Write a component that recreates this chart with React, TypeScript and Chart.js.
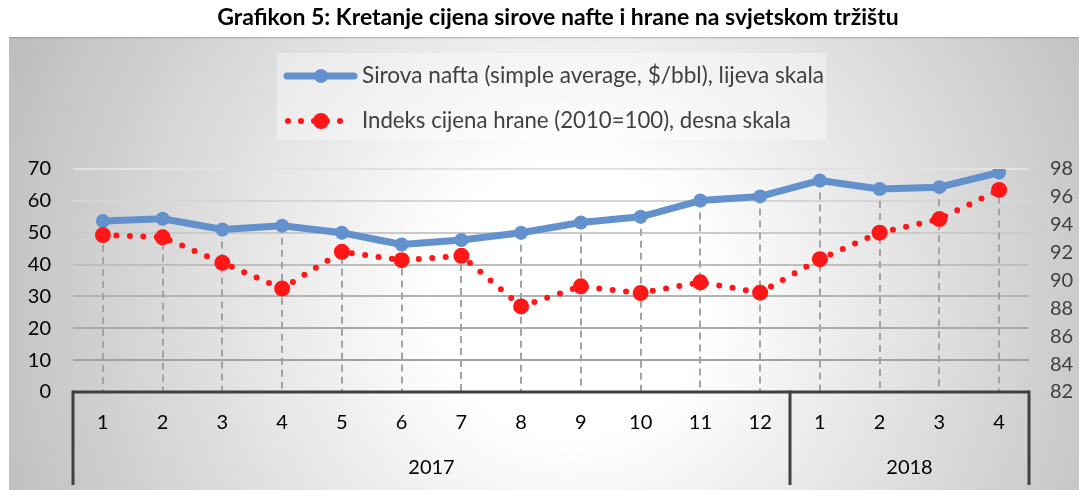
import React, { useEffect, useRef } from 'react';
import { Chart, registerables } from 'chart.js';

Chart.register(...registerables);

// ---- data ----
const months = ['1', '2', '3', '4', '5', '6', '7', '8', '9', '10', '11', '12', '1', '2', '3', '4'];
const years = ['2017', '2018'];
const yearSpans = [12, 4];
const oilPrice = [53.7, 54.4, 51.0, 52.2, 50.0, 46.3, 47.7, 50.0, 53.2, 55.0, 60.1, 61.4, 66.4, 63.7, 64.3, 68.9];
const foodIndex = [93.26, 93.1, 91.27, 89.42, 92.06, 91.46, 91.77, 88.14, 89.58, 89.1, 89.87, 89.13, 91.53, 93.43, 94.41, 96.5];
const leftAxis = { min: 0, max: 70, step: 10 };
const rightAxis = { min: 82, max: 98, step: 2 };
const titleText = 'Grafikon 5: Kretanje cijena sirove nafte i hrane na svjetskom tržištu';
const oilLabel = 'Sirova nafta (simple average, $/bbl), lijeva skala';
const foodLabel = 'Indeks cijena hrane (2010=100), desna skala';

const FONT = 'Lato, "Open Sans", "DejaVu Sans", sans-serif';
const OIL_COLOR = '#6391cd';
const FOOD_COLOR = '#ff1717';

function fitFont(ctx: CanvasRenderingContext2D, text: string, weight: string, target: number, base: number) {
  ctx.font = `${weight} ${base}px ${FONT}`;
  const w = ctx.measureText(text).width;
  const size = Math.min(base * 1.15, (base * target) / w);
  ctx.font = `${weight} ${size.toFixed(2)}px ${FONT}`;
}

const backgroundPlugin = {
  id: 'bgPlugin',
  beforeDraw(chart: any) {
    const ctx = chart.ctx as CanvasRenderingContext2D;
    const W = chart.width;
    const H = chart.height;
    ctx.save();
    ctx.fillStyle = '#ffffff';
    ctx.fillRect(0, 0, W, H);
    const bx = 9, by = 37;
    const g = ctx.createRadialGradient(570, 300, 0, 570, 300, 620);
    g.addColorStop(0, '#ffffff');
    g.addColorStop(0.22, '#ffffff');
    g.addColorStop(1, '#bcbcbc');
    ctx.fillStyle = g;
    ctx.fillRect(bx, by, W - bx, H - by);
    // top edge shade
    ctx.fillStyle = 'rgba(120,120,120,0.35)';
    ctx.fillRect(bx, by, W - bx, 1.5);
    // legend box
    ctx.fillStyle = 'rgba(255,255,255,0.35)';
    ctx.fillRect(277, 53, 549, 87);
    // title
    ctx.fillStyle = '#000000';
    ctx.textAlign = 'center';
    ctx.textBaseline = 'middle';
    fitFont(ctx, titleText, 'bold', 722, 20);
    ctx.fillText(titleText, 558, 18);
    ctx.restore();
  },
};

const dropLinePlugin = {
  id: 'dropLines',
  beforeDatasetsDraw(chart: any) {
    const ctx = chart.ctx as CanvasRenderingContext2D;
    const xs = chart.scales.x;
    const ys = chart.scales.yLeft;
    const bottom = chart.chartArea.bottom;
    ctx.save();
    ctx.strokeStyle = '#a3a3a3';
    ctx.lineWidth = 2;
    ctx.setLineDash([7, 5]);
    oilPrice.forEach((v, i) => {
      const x = Math.round(xs.getPixelForValue(i));
      const y = ys.getPixelForValue(v);
      ctx.beginPath();
      ctx.moveTo(x, y);
      ctx.lineTo(x, bottom);
      ctx.stroke();
    });
    ctx.restore();
  },
};

const framePlugin = {
  id: 'framePlugin',
  afterDraw(chart: any) {
    const ctx = chart.ctx as CanvasRenderingContext2D;
    const { left, right, bottom } = chart.chartArea;
    const xs = chart.scales.x;
    const n = months.length;
    const step = (right - left) / n;
    const lowEnd = bottom + 93;
    ctx.save();
    ctx.strokeStyle = '#404040';
    ctx.lineWidth = 3;
    ctx.setLineDash([]);
    ctx.beginPath();
    ctx.moveTo(left, bottom);
    ctx.lineTo(right, bottom);
    ctx.stroke();
    // group separators
    let idx = 0;
    const bounds = [left];
    yearSpans.forEach((s) => {
      idx += s;
      bounds.push(xs.getPixelForValue(idx - 1) + step / 2);
    });
    bounds.forEach((bx) => {
      ctx.beginPath();
      ctx.moveTo(bx, bottom - 1.5);
      ctx.lineTo(bx, lowEnd);
      ctx.stroke();
    });
    // year labels
    ctx.fillStyle = '#000000';
    ctx.textAlign = 'center';
    ctx.textBaseline = 'middle';
    ctx.font = `20px ${FONT}`;
    years.forEach((yl, i) => {
      const cx = (bounds[i] + bounds[i + 1]) / 2;
      ctx.fillText(yl, cx, bottom + 76);
    });
    ctx.restore();
  },
};

const legendPlugin = {
  id: 'customLegend',
  afterDraw(chart: any) {
    const ctx = chart.ctx as CanvasRenderingContext2D;
    ctx.save();
    // oil sample
    const y1 = 76, y2 = 121;
    ctx.strokeStyle = OIL_COLOR;
    ctx.lineWidth = 7;
    ctx.lineCap = 'round';
    ctx.beginPath();
    ctx.moveTo(287, y1);
    ctx.lineTo(354, y1);
    ctx.stroke();
    ctx.fillStyle = OIL_COLOR;
    ctx.beginPath();
    ctx.arc(321, y1, 7, 0, Math.PI * 2);
    ctx.fill();
    // food sample
    ctx.strokeStyle = FOOD_COLOR;
    ctx.lineWidth = 6;
    ctx.setLineDash([0, 13]);
    ctx.beginPath();
    ctx.moveTo(288, y2);
    ctx.lineTo(346, y2);
    ctx.stroke();
    ctx.setLineDash([]);
    ctx.fillStyle = FOOD_COLOR;
    ctx.beginPath();
    ctx.arc(321, y2, 8, 0, Math.PI * 2);
    ctx.fill();
    // texts
    ctx.fillStyle = '#404040';
    ctx.textAlign = 'left';
    ctx.textBaseline = 'middle';
    fitFont(ctx, oilLabel, 'normal', 462, 20);
    ctx.fillText(oilLabel, 362, y1);
    fitFont(ctx, foodLabel, 'normal', 429, 20);
    ctx.fillText(foodLabel, 362, y2);
    ctx.restore();
  },
};

const gridShades: Record<number, string> = {
  70: '#e2e2e2',
  60: '#d6d6d6',
  50: '#cacaca',
  40: '#bebebe',
  30: '#b3b3b3',
  20: '#aaaaaa',
  10: '#a2a2a2',
  0: 'rgba(0,0,0,0)',
};

export default function App() {
  const ref = useRef<HTMLCanvasElement | null>(null);
  useEffect(() => {
    if (!ref.current) return;
    const chart = new Chart(ref.current, {
      type: 'line',
      data: {
        labels: months,
        datasets: [
          {
            label: foodLabel,
            data: foodIndex,
            yAxisID: 'yRight',
            borderColor: FOOD_COLOR,
            backgroundColor: FOOD_COLOR,
            borderWidth: 6,
            borderDash: [0, 13.5],
            borderCapStyle: 'round',
            pointRadius: 8,
            pointBorderWidth: 0,
            pointBackgroundColor: FOOD_COLOR,
            tension: 0,
            order: 1,
          },
          {
            label: oilLabel,
            data: oilPrice,
            yAxisID: 'yLeft',
            borderColor: OIL_COLOR,
            backgroundColor: OIL_COLOR,
            borderWidth: 7,
            borderJoinStyle: 'round',
            pointRadius: 7,
            pointBorderWidth: 0,
            pointBackgroundColor: OIL_COLOR,
            tension: 0,
            order: 2,
          },
        ],
      } as any,
      options: {
        animation: false,
        responsive: false,
        maintainAspectRatio: false,
        layout: { padding: { top: 169, left: 0, right: 0, bottom: 0 } },
        plugins: {
          legend: { display: false },
          title: { display: false },
          tooltip: { enabled: false },
        },
        scales: {
          x: {
            type: 'category',
            offset: true,
            grid: { display: false, drawTicks: false },
            border: { display: false },
            ticks: {
              color: '#000000',
              font: { family: FONT, size: 20 },
              padding: 19,
              autoSkip: false,
              maxRotation: 0,
            },
            afterFit: (s: any) => {
              s.height = 98;
            },
          },
          yLeft: {
            type: 'linear',
            position: 'left',
            min: leftAxis.min,
            max: leftAxis.max,
            ticks: {
              stepSize: leftAxis.step,
              color: '#000000',
              font: { family: FONT, size: 20 },
              padding: 22,
            },
            grid: {
              drawTicks: false,
              lineWidth: 2,
              color: (c: any) => gridShades[c.tick?.value] ?? '#bbbbbb',
            },
            border: { display: false },
            afterFit: (s: any) => {
              s.width = 73;
            },
          },
          yRight: {
            type: 'linear',
            position: 'right',
            min: rightAxis.min,
            max: rightAxis.max,
            ticks: {
              stepSize: rightAxis.step,
              color: '#404040',
              font: { family: FONT, size: 20 },
              padding: 21,
            },
            grid: { display: false, drawTicks: false },
            border: { display: false },
            afterFit: (s: any) => {
              s.width = 50;
            },
          },
        },
      } as any,
      plugins: [backgroundPlugin, dropLinePlugin, framePlugin, legendPlugin],
    });
    return () => chart.destroy();
  }, []);

  return (
    <div style={{ position: 'absolute', left: 0, top: 0, width: 1079, height: 490 }}>
      <canvas ref={ref} width={1079} height={490} style={{ display: 'block', width: 1079, height: 490 }} />
    </div>
  );
}
